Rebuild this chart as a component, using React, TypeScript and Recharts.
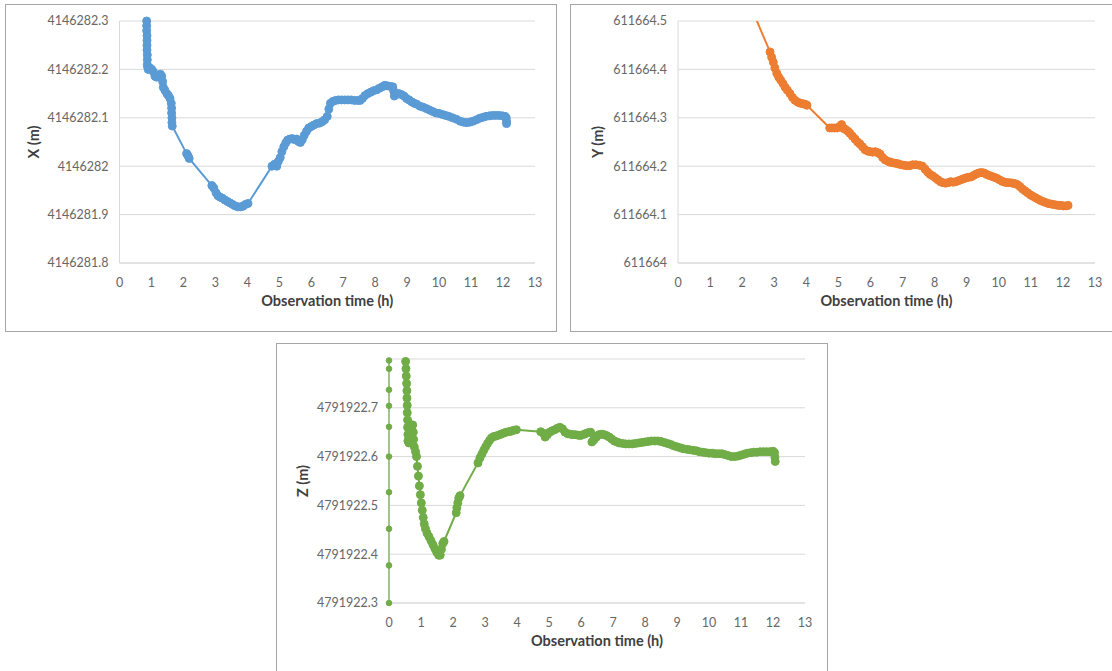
import { LineChart, Line, XAxis, YAxis, CartesianGrid } from "recharts";

type Pt = [number, number];

// observation time (h), coordinate (m)
const xSeries: Pt[] = [
  [0.85, 4146282.3], [0.85, 4146282.29], [0.85, 4146282.28], [0.86, 4146282.27],
  [0.86, 4146282.26], [0.86, 4146282.25], [0.86, 4146282.24], [0.87, 4146282.23],
  [0.87, 4146282.22], [0.87, 4146282.21], [0.88, 4146282.205], [0.9, 4146282.2],
  [0.95, 4146282.203], [1.01, 4146282.2], [1.06, 4146282.195], [1.11, 4146282.186],
  [1.16, 4146282.184], [1.22, 4146282.188], [1.28, 4146282.19], [1.32, 4146282.186],
  [1.35, 4146282.175], [1.37, 4146282.163], [1.42, 4146282.157], [1.48, 4146282.15],
  [1.53, 4146282.146], [1.58, 4146282.14], [1.62, 4146282.13], [1.63, 4146282.12],
  [1.63, 4146282.11], [1.64, 4146282.1], [1.64, 4146282.09], [1.65, 4146282.083],
  [2.1, 4146282.026], [2.14, 4146282.022], [2.18, 4146282.016],
  [2.89, 4146281.96], [2.95, 4146281.955], [3.02, 4146281.945], [3.08, 4146281.939],
  [3.15, 4146281.936], [3.22, 4146281.934], [3.3, 4146281.93], [3.38, 4146281.927],
  [3.46, 4146281.924], [3.54, 4146281.921], [3.62, 4146281.918], [3.7, 4146281.916],
  [3.78, 4146281.916], [3.86, 4146281.917], [3.94, 4146281.921], [4.02, 4146281.923],
  [4.77, 4146282.0], [4.85, 4146282.004], [4.92, 4146282.0], [4.97, 4146282.01],
  [5.03, 4146282.018], [5.08, 4146282.03], [5.14, 4146282.04], [5.2, 4146282.048],
  [5.26, 4146282.054], [5.33, 4146282.056], [5.4, 4146282.057], [5.47, 4146282.055],
  [5.54, 4146282.056], [5.6, 4146282.051], [5.66, 4146282.049], [5.72, 4146282.055],
  [5.78, 4146282.064], [5.85, 4146282.072], [5.92, 4146282.079], [6.0, 4146282.082],
  [6.08, 4146282.085], [6.17, 4146282.088], [6.26, 4146282.089], [6.34, 4146282.092],
  [6.42, 4146282.096], [6.5, 4146282.103], [6.55, 4146282.118], [6.6, 4146282.13],
  [6.68, 4146282.134], [6.76, 4146282.136], [6.85, 4146282.137], [6.95, 4146282.137],
  [7.05, 4146282.137], [7.15, 4146282.137], [7.25, 4146282.137], [7.35, 4146282.136],
  [7.45, 4146282.136], [7.53, 4146282.136], [7.6, 4146282.14], [7.68, 4146282.146],
  [7.77, 4146282.15], [7.86, 4146282.153], [7.95, 4146282.156], [8.05, 4146282.158],
  [8.13, 4146282.161], [8.22, 4146282.164], [8.3, 4146282.167], [8.38, 4146282.166],
  [8.46, 4146282.165], [8.55, 4146282.164], [8.58, 4146282.155], [8.6, 4146282.145],
  [8.66, 4146282.148], [8.74, 4146282.15], [8.82, 4146282.148], [8.9, 4146282.145],
  [8.98, 4146282.14], [9.06, 4146282.137], [9.14, 4146282.133], [9.22, 4146282.13],
  [9.3, 4146282.128], [9.4, 4146282.124], [9.5, 4146282.122], [9.6, 4146282.119],
  [9.7, 4146282.116], [9.8, 4146282.113], [9.9, 4146282.11], [10.0, 4146282.109],
  [10.1, 4146282.107], [10.2, 4146282.105], [10.3, 4146282.103], [10.42, 4146282.1],
  [10.54, 4146282.097], [10.66, 4146282.093], [10.76, 4146282.091], [10.86, 4146282.09],
  [10.96, 4146282.091], [11.06, 4146282.093], [11.17, 4146282.096], [11.27, 4146282.099],
  [11.37, 4146282.101], [11.47, 4146282.103], [11.57, 4146282.104], [11.67, 4146282.105],
  [11.77, 4146282.105], [11.88, 4146282.105], [11.98, 4146282.104], [12.06, 4146282.103],
  [12.1, 4146282.1], [12.11, 4146282.093], [12.11, 4146282.088],
];

const ySeries: Pt[] = [
  [2.3, 611664.525], [2.87, 611664.436], [2.92, 611664.425], [2.97, 611664.415],
  [3.02, 611664.403], [3.08, 611664.392], [3.14, 611664.384], [3.2, 611664.378],
  [3.27, 611664.371], [3.34, 611664.363], [3.41, 611664.357], [3.49, 611664.35],
  [3.57, 611664.342], [3.65, 611664.336], [3.74, 611664.332], [3.82, 611664.33],
  [3.9, 611664.329], [3.96, 611664.328], [4.02, 611664.326],
  [4.73, 611664.279], [4.8, 611664.279], [4.88, 611664.279], [4.96, 611664.279],
  [5.04, 611664.282], [5.1, 611664.286], [5.16, 611664.278], [5.22, 611664.276],
  [5.3, 611664.272], [5.36, 611664.268], [5.44, 611664.262], [5.52, 611664.256],
  [5.6, 611664.25], [5.67, 611664.246], [5.75, 611664.24], [5.83, 611664.234],
  [5.92, 611664.231], [6.0, 611664.23], [6.07, 611664.229], [6.15, 611664.23],
  [6.23, 611664.228], [6.3, 611664.225], [6.38, 611664.218], [6.46, 611664.213],
  [6.55, 611664.21], [6.62, 611664.208], [6.7, 611664.207], [6.78, 611664.206],
  [6.86, 611664.205], [6.95, 611664.203], [7.04, 611664.202], [7.13, 611664.201],
  [7.22, 611664.201], [7.32, 611664.203], [7.42, 611664.203], [7.52, 611664.202],
  [7.62, 611664.2], [7.7, 611664.194], [7.78, 611664.188], [7.86, 611664.183],
  [7.94, 611664.18], [8.02, 611664.176], [8.1, 611664.172], [8.18, 611664.168],
  [8.26, 611664.166], [8.34, 611664.165], [8.42, 611664.166], [8.5, 611664.168],
  [8.58, 611664.167], [8.66, 611664.168], [8.74, 611664.17], [8.82, 611664.172],
  [8.9, 611664.174], [8.98, 611664.176], [9.06, 611664.177], [9.14, 611664.178],
  [9.22, 611664.181], [9.3, 611664.184], [9.38, 611664.186], [9.46, 611664.187],
  [9.54, 611664.186], [9.62, 611664.183], [9.7, 611664.181], [9.78, 611664.179],
  [9.86, 611664.177], [9.94, 611664.175], [10.02, 611664.172], [10.1, 611664.169],
  [10.18, 611664.167], [10.26, 611664.166], [10.34, 611664.166], [10.42, 611664.165],
  [10.5, 611664.164], [10.58, 611664.162], [10.66, 611664.158], [10.74, 611664.153],
  [10.82, 611664.149], [10.9, 611664.145], [10.98, 611664.141], [11.06, 611664.138],
  [11.14, 611664.135], [11.22, 611664.132], [11.3, 611664.129], [11.38, 611664.127],
  [11.46, 611664.125], [11.54, 611664.123], [11.62, 611664.122], [11.7, 611664.121],
  [11.78, 611664.12], [11.86, 611664.119], [11.94, 611664.119], [12.02, 611664.118],
  [12.1, 611664.118], [12.16, 611664.119],
];

// readings logged at t = 0
const zStartSeries: Pt[] = [
  [0, 4791922.3], [0, 4791922.377], [0, 4791922.452], [0, 4791922.527],
  [0, 4791922.6], [0, 4791922.661], [0, 4791922.704], [0, 4791922.737],
  [0, 4791922.78], [0, 4791922.797],
];

const zSeries: Pt[] = [
  [0.52, 4791922.795], [0.53, 4791922.78], [0.54, 4791922.765], [0.55, 4791922.75],
  [0.56, 4791922.735], [0.56, 4791922.72], [0.57, 4791922.705], [0.57, 4791922.69],
  [0.58, 4791922.675], [0.58, 4791922.66], [0.59, 4791922.645], [0.59, 4791922.632],
  [0.62, 4791922.628], [0.66, 4791922.64], [0.7, 4791922.66], [0.74, 4791922.665],
  [0.76, 4791922.65], [0.77, 4791922.635], [0.79, 4791922.62], [0.83, 4791922.61],
  [0.86, 4791922.6], [0.89, 4791922.58], [0.92, 4791922.56], [0.95, 4791922.54],
  [0.98, 4791922.522], [1.01, 4791922.505], [1.04, 4791922.49], [1.07, 4791922.475],
  [1.1, 4791922.462], [1.14, 4791922.452], [1.19, 4791922.443], [1.25, 4791922.436],
  [1.31, 4791922.428], [1.37, 4791922.42], [1.43, 4791922.412], [1.49, 4791922.404],
  [1.55, 4791922.398], [1.6, 4791922.398], [1.64, 4791922.41], [1.68, 4791922.422],
  [1.72, 4791922.426],
  [2.1, 4791922.485], [2.12, 4791922.495], [2.15, 4791922.505], [2.18, 4791922.515],
  [2.22, 4791922.52],
  [2.78, 4791922.587], [2.84, 4791922.597], [2.9, 4791922.605], [2.96, 4791922.613],
  [3.02, 4791922.62], [3.08, 4791922.627], [3.14, 4791922.633], [3.2, 4791922.638],
  [3.27, 4791922.641], [3.34, 4791922.642], [3.42, 4791922.644], [3.5, 4791922.646],
  [3.58, 4791922.648], [3.66, 4791922.65], [3.74, 4791922.651], [3.82, 4791922.652],
  [3.9, 4791922.654], [3.98, 4791922.655],
  [4.74, 4791922.651], [4.82, 4791922.648], [4.88, 4791922.64], [4.95, 4791922.645],
  [5.02, 4791922.65], [5.1, 4791922.653], [5.18, 4791922.655], [5.26, 4791922.658],
  [5.34, 4791922.66], [5.42, 4791922.657], [5.5, 4791922.65], [5.58, 4791922.647],
  [5.66, 4791922.646], [5.74, 4791922.645], [5.82, 4791922.645], [5.9, 4791922.644],
  [5.98, 4791922.643], [6.06, 4791922.645], [6.14, 4791922.647], [6.22, 4791922.649],
  [6.3, 4791922.65], [6.34, 4791922.63], [6.4, 4791922.634], [6.48, 4791922.64],
  [6.56, 4791922.645], [6.64, 4791922.646], [6.72, 4791922.645], [6.8, 4791922.643],
  [6.88, 4791922.64], [6.96, 4791922.636], [7.04, 4791922.632], [7.12, 4791922.63],
  [7.2, 4791922.628], [7.3, 4791922.627], [7.4, 4791922.626], [7.5, 4791922.626],
  [7.6, 4791922.626], [7.7, 4791922.627], [7.8, 4791922.628], [7.9, 4791922.629],
  [8.0, 4791922.63], [8.1, 4791922.631], [8.2, 4791922.632], [8.3, 4791922.632],
  [8.4, 4791922.632], [8.5, 4791922.631], [8.6, 4791922.629], [8.7, 4791922.627],
  [8.8, 4791922.625], [8.9, 4791922.622], [9.0, 4791922.62], [9.1, 4791922.618],
  [9.2, 4791922.616], [9.3, 4791922.615], [9.4, 4791922.614], [9.5, 4791922.613],
  [9.6, 4791922.612], [9.7, 4791922.61], [9.8, 4791922.609], [9.9, 4791922.608],
  [10.0, 4791922.607], [10.1, 4791922.607], [10.2, 4791922.606], [10.3, 4791922.606],
  [10.4, 4791922.606], [10.5, 4791922.604], [10.6, 4791922.602], [10.7, 4791922.6],
  [10.8, 4791922.6], [10.9, 4791922.601], [11.0, 4791922.603], [11.1, 4791922.605],
  [11.2, 4791922.607], [11.3, 4791922.608], [11.4, 4791922.609], [11.5, 4791922.609],
  [11.6, 4791922.61], [11.7, 4791922.61], [11.8, 4791922.61], [11.9, 4791922.61],
  [12.0, 4791922.611], [12.05, 4791922.608], [12.06, 4791922.598], [12.07, 4791922.59],
];

const timeTicks = [0, 1, 2, 3, 4, 5, 6, 7, 8, 9, 10, 11, 12, 13];
const xTicks = [4146281.8, 4146281.9, 4146282, 4146282.1, 4146282.2, 4146282.3];
const yTicks = [611664, 611664.1, 611664.2, 611664.3, 611664.4, 611664.5];
const zTicks = [4791922.3, 4791922.4, 4791922.5, 4791922.6, 4791922.7];

const FONT = "Lato, 'Open Sans', sans-serif";
const GRID = "#d9d9d9";

const toRows = (pts: Pt[]) => pts.map(([t, v]) => ({ t, v }));

interface SeriesDef {
  pts: Pt[];
  color: string;
  r: number;
}

interface PanelProps {
  left: number;
  top: number;
  boxWidth: number;
  boxHeight: number;
  margin: { top: number; right: number; bottom: number; left: number };
  yWidth: number;
  yDomain: [number, number];
  yTicks: number[];
  yTitle: string;
  yTitleOffset: number;
  clip?: boolean;
  series: SeriesDef[];
}

function Panel(p: PanelProps) {
  const w = p.boxWidth - 2;
  const h = p.boxHeight - 2;
  return (
    <div
      style={{
        position: "absolute",
        left: p.left,
        top: p.top,
        width: w,
        height: h,
        border: "1px solid #a6a6a6",
        background: "#fff",
      }}
    >
      <LineChart width={w} height={h} margin={p.margin}>
        <CartesianGrid vertical={false} stroke={GRID} />
        <XAxis
          type="number"
          dataKey="t"
          domain={[0, 13]}
          ticks={timeTicks}
          interval={0}
          height={50}
          tickLine={false}
          tickSize={6}
          tickMargin={9}
          axisLine={{ stroke: GRID }}
          tick={{ fill: "#666", fontSize: 12.5, fontFamily: FONT }}
          label={{
            value: "Observation time (h)",
            position: "insideBottom",
            offset: 7,
            style: { fill: "#404040", fontSize: 14.5, fontWeight: 700, fontFamily: FONT },
          }}
        />
        <YAxis
          type="number"
          domain={p.yDomain}
          ticks={p.yTicks}
          interval={0}
          width={p.yWidth}
          allowDataOverflow={!!p.clip}
          tickLine={false}
          tickSize={6}
          tickMargin={5}
          axisLine={{ stroke: GRID }}
          tick={{ fill: "#666", fontSize: 12.5, fontFamily: FONT }}
          label={{
            value: p.yTitle,
            angle: -90,
            position: "insideLeft",
            offset: p.yTitleOffset,
            style: {
              fill: "#404040",
              fontSize: 14.5,
              fontWeight: 700,
              fontFamily: FONT,
              textAnchor: "middle",
            },
          }}
        />
        {p.series.map((s, i) => (
          <Line
            key={i}
            data={toRows(s.pts)}
            dataKey="v"
            type="linear"
            stroke={s.color}
            strokeWidth={2}
            dot={{ r: s.r, fill: s.color, stroke: s.color, strokeWidth: 1 }}
            activeDot={false}
            isAnimationActive={false}
          />
        ))}
      </LineChart>
    </div>
  );
}

export default function App() {
  return (
    <div
      style={{
        position: "relative",
        width: 1112,
        height: 671,
        overflow: "hidden",
        background: "#fff",
      }}
    >
      <style>{`body{margin:0}`}</style>
      <Panel
        left={5}
        top={4}
        boxWidth={552}
        boxHeight={328}
        margin={{ top: 16, right: 21, bottom: 18, left: 13.5 }}
        yWidth={100}
        yDomain={[4146281.8, 4146282.3]}
        yTicks={xTicks}
        yTitle="X (m)"
        yTitleOffset={14.5}
        series={[{ pts: xSeries, color: "#5b9bd5", r: 4 }]}
      />
      <Panel
        left={570}
        top={4}
        boxWidth={545}
        boxHeight={328}
        margin={{ top: 16, right: 19, bottom: 18, left: 12 }}
        yWidth={95}
        yDomain={[611664, 611664.5]}
        yTicks={yTicks}
        yTitle="Y (m)"
        yTitleOffset={15}
        clip
        series={[{ pts: ySeries, color: "#ed7d31", r: 4 }]}
      />
      <Panel
        left={276}
        top={343}
        boxWidth={552}
        boxHeight={332}
        margin={{ top: 15, right: 22, bottom: 21, left: 12 }}
        yWidth={100}
        yDomain={[4791922.3, 4791922.8]}
        yTicks={zTicks}
        yTitle="Z (m)"
        yTitleOffset={14}
        series={[
          { pts: zStartSeries, color: "#70ad47", r: 2.8 },
          { pts: zSeries, color: "#70ad47", r: 4 },
        ]}
      />
    </div>
  );
}
